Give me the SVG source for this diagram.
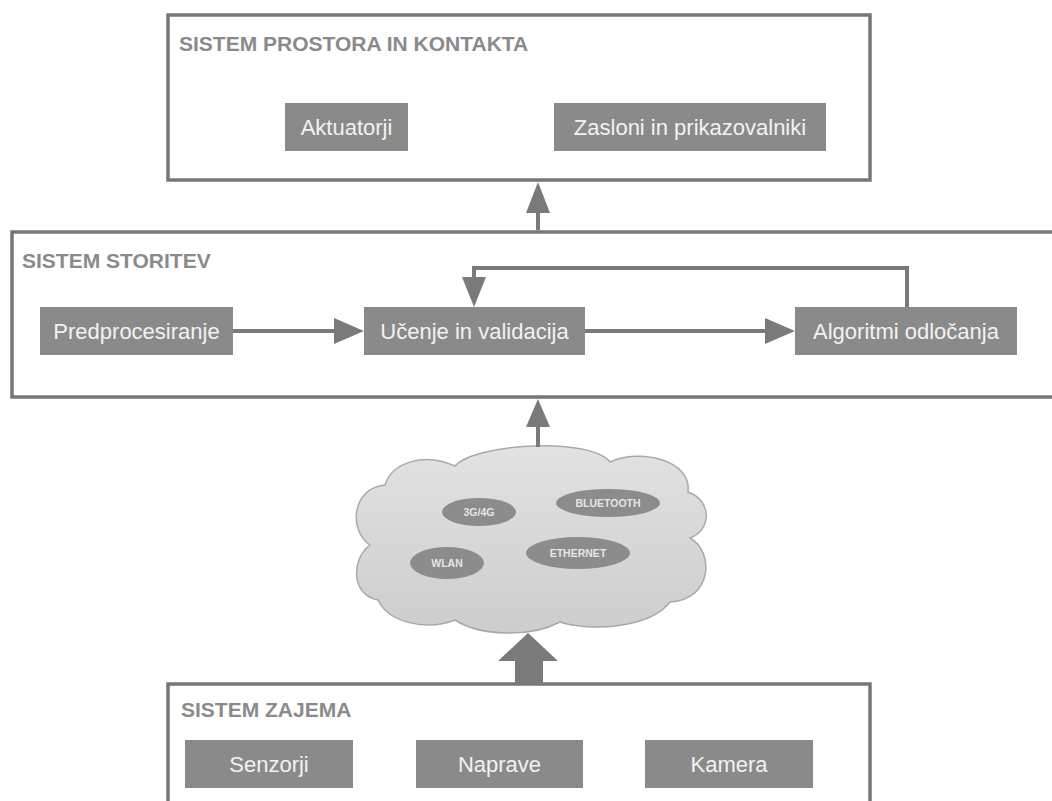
<svg xmlns="http://www.w3.org/2000/svg" width="1052" height="801" viewBox="0 0 1052 801">
<defs>
<style>
.frame{fill:#fff;stroke:#767676;stroke-width:3.5}
.title{font-family:"Liberation Sans",Arial,sans-serif;font-size:21px;font-weight:bold;fill:#8a8a8a}
.box{fill:#8a8a8a}
.bt{font-family:"Liberation Sans",Arial,sans-serif;font-size:22px;fill:#f2f2f2;text-anchor:middle}
.ov{fill:#8c8c8c}
.ot{font-family:"Liberation Sans",Arial,sans-serif;font-size:10.5px;font-weight:bold;fill:#e6e6e6;text-anchor:middle}
.ln{fill:none;stroke:#7a7a7a;stroke-width:4}
.hd{fill:#7a7a7a}
</style>
<linearGradient id="cg" x1="0" y1="0" x2="0" y2="1">
<stop offset="0" stop-color="#e2e2e2"/>
<stop offset="1" stop-color="#cdcdcd"/>
</linearGradient>
</defs>
<rect width="1052" height="801" fill="#fff"/>

<g id="sistem-prostora">
<rect class="frame" x="168" y="15" width="702" height="165"/>
<text class="title" x="179" y="51">SISTEM PROSTORA IN KONTAKTA</text>
</g>
<g id="aktuatorji">
<rect class="box" x="285" y="103" width="123" height="48"/>
<text class="bt" x="346.5" y="135">Aktuatorji</text>
</g>
<g id="zasloni">
<rect class="box" x="554" y="103" width="272" height="48"/>
<text class="bt" x="690" y="135">Zasloni in prikazovalniki</text>
</g>

<g id="sistem-storitev">
<rect class="frame" x="12" y="232" width="1052" height="165"/>
<text class="title" x="22" y="268">SISTEM STORITEV</text>
</g>
<g id="predprocesiranje">
<rect class="box" x="40" y="307" width="193" height="48"/>
<text class="bt" x="136.5" y="339">Predprocesiranje</text>
</g>
<g id="ucenje">
<rect class="box" x="364" y="307" width="221" height="48"/>
<text class="bt" x="474.5" y="339">Učenje in validacija</text>
</g>
<g id="algoritmi">
<rect class="box" x="795" y="307" width="222" height="48"/>
<text class="bt" x="906" y="339">Algoritmi odločanja</text>
</g>

<g id="omrezje">
<path d="M378,600 C352,596 350,560 370,545 C348,530 352,488 385,485 C392,462 425,452 455,466 C475,443 590,437 610,462 C640,448 692,460 688,492 C712,500 712,530 690,538 C715,552 712,600 670,602 C650,628 590,632 560,622 C530,638 480,636 455,620 C430,630 390,625 378,600 Z" fill="url(#cg)" stroke="#a9a9a9" stroke-width="1.5"/>
<ellipse class="ov" cx="479" cy="512" rx="37" ry="14"/>
<text class="ot" x="479" y="516">3G/4G</text>
<ellipse class="ov" cx="608" cy="503" rx="52" ry="14"/>
<text class="ot" x="608" y="507">BLUETOOTH</text>
<ellipse class="ov" cx="447" cy="563" rx="37" ry="16"/>
<text class="ot" x="447" y="567">WLAN</text>
<ellipse class="ov" cx="578" cy="553" rx="52" ry="16"/>
<text class="ot" x="578" y="557">ETHERNET</text>
</g>

<g id="sistem-zajema">
<rect class="frame" x="168" y="684" width="702" height="140"/>
<text class="title" x="181" y="717">SISTEM ZAJEMA</text>
</g>
<g id="senzorji">
<rect class="box" x="185" y="740" width="168" height="48"/>
<text class="bt" x="269" y="772">Senzorji</text>
</g>
<g id="naprave">
<rect class="box" x="416" y="740" width="167" height="48"/>
<text class="bt" x="499.5" y="772">Naprave</text>
</g>
<g id="kamera">
<rect class="box" x="645" y="740" width="168" height="48"/>
<text class="bt" x="729" y="772">Kamera</text>
</g>

<g id="connectors">
<line class="ln" x1="538" y1="230" x2="538" y2="208"/>
<polygon class="hd" points="538,182 526,213 550,213"/>
<line class="ln" x1="233" y1="331" x2="336" y2="331"/>
<polygon class="hd" points="364,331 334,318 334,344"/>
<line class="ln" x1="585" y1="331" x2="767" y2="331"/>
<polygon class="hd" points="795,331 765,318 765,344"/>
<polyline class="ln" points="907,307 907,268 474,268 474,280"/>
<polygon class="hd" points="474,307 462,277 486,277"/>
<line class="ln" x1="538" y1="447" x2="538" y2="422"/>
<polygon class="hd" points="538,399 526,427 550,427"/>
<polygon class="hd" points="528,633 498,661 515,661 515,684 543,684 543,661 558,661"/>
</g>
</svg>
